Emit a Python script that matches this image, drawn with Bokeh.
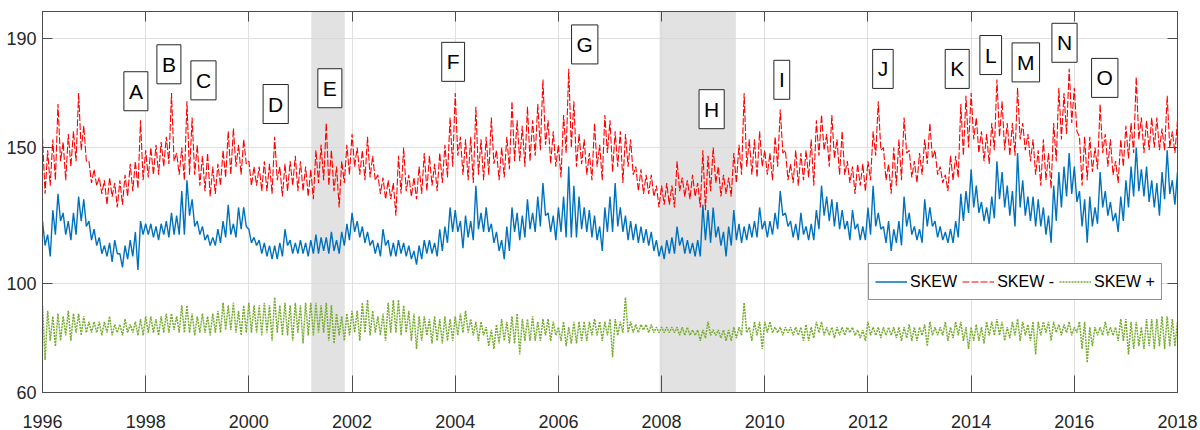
from bokeh.plotting import figure
from bokeh.models import Range1d, FixedTicker, LinearAxis, Legend, LegendItem, Label, BoxAnnotation
from bokeh.embed import file_html
from bokeh.resources import INLINE

# ---------------- data ----------------
# sampling dates: every 0.1 year from 1996.0 to 2018.0
year0 = 1996.0
n_samples = 221

# SKEW (blue) upper / lower envelope per date
skew_hi = [
    123,118,127,133,126,123,126,132,131,123,
    120,117,114,115,116,111,114,116,119,123,
    122,122,121,122,123,126,125,134,138,131,
    123,121,118,117,120,123,129,122,128,128,
    120,117,116,115,114,114,115,120,116,115,
    116,115,116,118,117,117,119,116,119,122,
    126,123,121,119,116,115,120,116,115,116,
    115,114,112,114,116,116,115,120,121,128,
    127,123,125,123,136,126,128,122,119,116,
    121,128,126,125,131,126,132,137,126,125,
    128,132,143,136,132,128,127,125,121,128,
    132,137,128,125,123,122,121,120,119,116,
    114,116,117,121,117,116,115,116,129,127,
    128,121,119,121,127,122,121,122,123,128,
    123,123,126,134,126,123,122,126,121,122,
    127,136,132,131,130,127,123,127,122,121,
    128,136,126,121,123,120,123,132,126,121,
    120,131,128,123,121,119,120,123,133,134,
    142,136,130,128,132,145,141,136,134,148,
    138,132,132,131,128,125,136,141,143,148,
    143,134,131,132,128,141,134,130,126,132,
    138,143,150,142,143,138,137,141,149,138,
    141]
skew_lo = [
    114,110,118,123,118,116,118,123,121,116,
    114,111,110,108,111,106,109,110,105,118,
    118,117,116,118,117,118,118,118,125,121,
    118,116,114,114,115,117,118,117,120,121,
    115,114,111,110,109,109,110,114,111,111,
    111,110,111,111,112,111,112,111,114,116,
    119,117,115,114,111,110,114,110,110,111,
    110,109,107,109,111,111,110,112,115,119,
    119,113,117,116,120,119,119,115,112,109,
    112,119,116,117,120,119,121,125,119,116,
    119,117,117,117,120,119,117,116,112,119,
    119,121,119,116,116,115,115,114,112,110,
    109,111,111,114,111,111,110,110,116,115,
    117,114,110,114,116,115,116,117,117,120,
    117,118,120,125,121,117,116,118,116,116,
    120,125,123,121,120,120,116,120,116,116,
    118,121,120,115,112,115,114,121,118,116,
    115,121,121,117,116,115,115,117,123,126,
    128,126,123,122,124,131,128,125,121,128,
    125,123,121,121,118,115,123,128,132,133,
    130,121,115,121,122,128,125,123,119,123,
    128,132,134,132,130,128,125,131,133,129,
    131]

# SKEW - (red)
skew_minus_hi = [
    154,149,153,166,152,155,156,170,158,145,
    142,139,138,139,137,138,140,144,145,160,
    149,150,151,152,154,170,148,150,167,161,
    151,147,148,143,144,149,156,157,151,153,
    145,143,143,145,144,154,143,144,145,147,
    145,143,142,149,151,159,149,143,145,151,
    155,150,149,154,147,140,139,138,137,147,
    150,140,139,143,148,147,144,148,151,161,
    170,154,153,154,165,153,154,161,149,150,
    154,167,160,158,165,160,166,175,160,156,
    151,162,179,167,155,153,148,159,151,162,
    160,156,156,155,153,143,142,140,140,136,
    136,137,136,145,139,138,140,137,149,147,
    150,143,140,139,148,151,170,153,153,156,
    149,148,154,164,149,144,149,148,149,153,
    160,162,155,162,153,156,145,143,144,144,
    145,156,167,150,144,150,153,161,149,145,
    148,153,159,149,143,140,147,147,166,169,
    170,161,156,155,159,175,167,159,159,172,
    159,155,153,149,153,148,159,172,170,179,
    172,154,154,154,150,166,155,153,145,153,
    158,159,176,161,160,161,161,157,169,156,
    160]
skew_minus_lo = [
    133,136,138,145,138,143,145,149,145,137,
    136,133,129,132,128,129,132,134,135,138,
    139,140,140,143,144,145,140,138,140,140,
    136,134,132,133,136,139,140,143,140,144,
    136,136,134,134,133,138,132,134,136,134,
    134,132,131,137,138,136,134,128,137,140,
    143,140,138,139,138,133,131,131,125,133,
    134,132,131,133,134,136,134,137,139,143,
    147,140,138,137,140,138,140,144,138,139,
    142,145,145,143,145,147,149,151,144,143,
    139,148,150,143,144,140,138,143,138,148,
    141,143,137,143,140,134,133,133,132,128,
    129,129,128,134,132,131,132,128,127,134,
    137,132,133,132,137,140,143,140,139,143,
    140,138,143,148,138,137,136,138,139,136,
    147,149,143,146,140,140,137,133,136,134,
    138,147,149,138,133,136,138,148,139,137,
    140,144,146,140,137,134,138,139,147,150,
    153,148,145,144,149,154,149,147,147,153,
    149,145,140,136,138,135,145,153,155,159,
    156,136,138,141,142,148,143,140,137,143,
    146,148,153,148,149,150,149,149,150,148,
    150]

# SKEW + (green)
skew_plus_hi = [
    92,90,88,89,88,90,89,89,88,86,
    86,86,86,88,85,85,87,85,86,87,
    88,88,87,88,89,89,88,92,92,89,
    88,89,88,89,90,93,92,93,90,92,
    93,92,92,93,92,95,92,93,92,93,
    92,93,93,93,92,93,92,89,88,89,
    90,90,93,94,90,88,89,93,94,94,
    92,90,89,88,88,87,88,87,88,87,
    88,89,90,87,86,86,84,83,85,87,
    86,88,89,87,87,88,86,87,87,86,
    84,86,84,86,86,86,86,87,86,86,
    87,87,86,95,86,85,85,85,85,84,
    84,84,84,84,84,84,83,83,83,86,
    83,83,83,83,84,84,93,84,86,86,
    86,86,84,84,84,84,84,84,85,84,
    86,86,84,84,84,84,84,84,83,83,
    86,84,84,84,84,84,84,84,85,84,
    84,85,86,84,84,86,84,86,86,84,
    84,85,84,86,86,87,86,84,86,87,
    86,85,86,86,86,86,86,85,85,86,
    84,86,86,84,84,84,86,84,84,87,
    87,86,86,84,87,87,87,88,88,87,
    86]
skew_plus_lo = [
    72,79,77,79,81,79,82,81,82,82,
    82,81,82,81,82,81,82,82,81,81,
    82,82,81,82,82,83,82,82,82,81,
    82,82,81,82,82,83,83,82,81,82,
    82,82,81,82,79,82,81,81,79,82,
    78,81,81,82,82,79,78,81,79,81,
    82,79,82,81,82,81,79,82,82,81,
    82,79,76,79,81,78,79,78,79,79,
    81,82,82,81,79,81,77,76,78,79,
    78,78,74,79,79,79,79,81,79,81,
    79,77,78,78,79,79,81,81,79,81,
    73,81,82,82,82,82,83,82,82,82,
    82,82,82,81,81,81,81,79,80,81,
    81,80,79,79,80,81,82,79,81,76,
    82,82,82,81,82,81,81,79,79,80,
    82,81,81,80,81,81,82,81,80,79,
    81,81,80,81,81,80,79,80,79,79,
    81,77,81,81,81,79,80,81,79,76,
    79,79,78,81,81,81,79,80,81,79,
    81,79,74,81,82,79,82,81,82,81,
    82,76,71,77,81,81,81,81,79,79,
    74,76,77,76,77,76,77,76,77,77,
    78]

# recessions (shaded)
recession_start = [2001.21, 2007.96]
recession_end = [2001.86, 2009.44]

# event labels
event_names = ["A", "B", "C", "D", "E", "F", "G", "H", "I", "J", "K", "L", "M", "N", "O"]
event_years = [1997.81, 1998.45, 1999.12, 2000.52, 2001.57, 2003.96, 2006.51, 2008.97,
               2010.33, 2012.29, 2013.73, 2014.38, 2015.06, 2015.81, 2016.59]
event_levels = [170.7, 180.6, 174.7, 166.0, 171.8, 181.5, 187.9, 164.1,
                174.9, 178.9, 178.9, 184.0, 181.3, 188.5, 175.6]

x_ticks = [1996, 1998, 2000, 2002, 2004, 2006, 2008, 2010, 2012, 2014, 2016, 2018]
y_ticks = [60, 100, 150, 190]
series_names = ["SKEW", "SKEW -", "SKEW +"]

# ---------------- build ----------------
dates = [round(year0 + 0.1 * i, 2) for i in range(n_samples)]


def zig(hi, lo):
    xs, ys = [], []
    for t, h, l in zip(dates, hi, lo):
        xs += [t, t + 0.05]
        ys += [h, l]
    return xs, ys


FONT = "Liberation Sans"
INK = "#262626"
AX = "#4d4d4d"

p = figure(width=1200, height=430, x_range=Range1d(1996, 2018), y_range=Range1d(60, 200),
           output_backend="svg", toolbar_location=None,
           min_border_left=42, min_border_right=23, min_border_top=11, min_border_bottom=37,
           background_fill_color="white", border_fill_color="white")
p.outline_line_color = AX
p.outline_line_width = 1

p.xgrid.grid_line_color = "#e0e0e0"
p.ygrid.grid_line_color = "#e0e0e0"
p.xgrid.ticker = FixedTicker(ticks=x_ticks)
p.ygrid.ticker = FixedTicker(ticks=y_ticks)

for s, e in zip(recession_start, recession_end):
    p.add_layout(BoxAnnotation(left=s, right=e, fill_color="#d6d6d6", fill_alpha=0.7,
                               line_color=None, level="underlay"))

xb, yb = zig(skew_hi, skew_lo)
xr, yr = zig(skew_minus_hi, skew_minus_lo)
xg, yg = zig(skew_plus_hi, skew_plus_lo)

r_blue = p.line(xb, yb, line_color="#0072BD", line_width=1.4)
r_red = p.line(xr, yr, line_color="#FF0000", line_width=1.1, line_dash="7 2")
r_green = p.line(xg, yg, line_color="#77AC30", line_width=1.5, line_dash="2 1")

xa = p.xaxis[0]
ya = p.yaxis[0]
xa.ticker = FixedTicker(ticks=x_ticks)
ya.ticker = FixedTicker(ticks=y_ticks)
for ax, tin, so in [(xa, 17, 22), (ya, 10, 6)]:
    ax.major_tick_in = tin
    ax.major_tick_out = 0
    ax.minor_tick_in = 0
    ax.minor_tick_out = 0
    ax.axis_line_color = AX
    ax.major_tick_line_color = AX
    ax.major_label_text_font = FONT
    ax.major_label_text_font_size = "18px"
    ax.major_label_text_color = INK
    ax.major_label_standoff = so

top = LinearAxis(ticker=FixedTicker(ticks=x_ticks), major_label_text_font_size="1px",
                 major_label_text_color=None,
                 major_tick_in=10, major_tick_out=0, minor_tick_in=0, minor_tick_out=0,
                 major_label_standoff=0, axis_line_color=AX, major_tick_line_color=AX)
p.add_layout(top, "above")
right = LinearAxis(ticker=FixedTicker(ticks=y_ticks), major_label_text_font_size="1px",
                   major_label_text_color=None,
                   major_tick_in=10, major_tick_out=0, minor_tick_in=0, minor_tick_out=0,
                   major_label_standoff=0, axis_line_color=AX, major_tick_line_color=AX)
p.add_layout(right, "right")

for name, xv, yv in zip(event_names, event_years, event_levels):
    p.add_layout(Label(x=xv, y=yv, text=name, text_align="center", text_baseline="middle",
                       text_font=FONT, text_font_size="21px", text_color="black",
                       background_fill_color="white", border_line_color=INK, border_line_width=1,
                       padding=dict(left=5, right=5, top=8, bottom=8)))

legend = Legend(items=[LegendItem(label=series_names[0], renderers=[r_blue]),
                       LegendItem(label=series_names[1], renderers=[r_red]),
                       LegendItem(label=series_names[2], renderers=[r_green])],
                orientation="horizontal", location=(826, 92),
                label_text_font=FONT, label_text_font_size="16px", label_text_color="black",
                glyph_width=32, glyph_height=23, label_standoff=3, spacing=5, padding=6,
                margin=0, border_line_color=INK, border_line_width=1,
                background_fill_color="white", background_fill_alpha=1.0)
p.add_layout(legend)

open("out.html", "w").write(file_html(p, INLINE))
